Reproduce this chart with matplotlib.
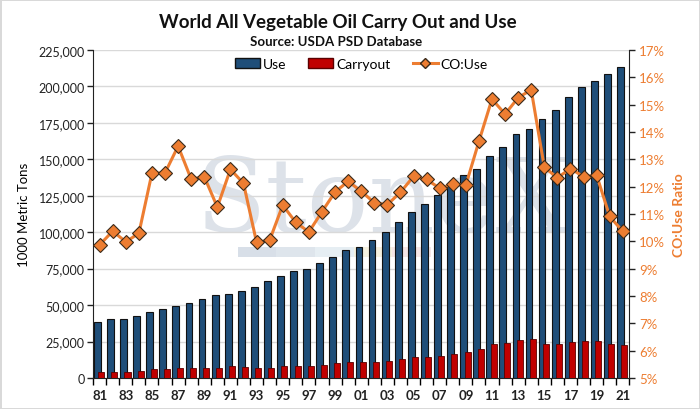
import matplotlib.pyplot as plt
from matplotlib.ticker import FuncFormatter, FixedLocator
from matplotlib.lines import Line2D
from matplotlib.patches import Patch
import numpy as np

plt.rcParams["font.family"] = ["Lato", "DejaVu Sans"]

# Marketing years 1981..2021, shown as two-digit labels
years = [f"{y % 100:02d}" for y in range(1981, 2022)]

# 1000 metric tons
use = [38500, 40500, 40500, 42700, 45300, 47300, 49600, 51400, 54200, 56900,
       57600, 59500, 62200, 66800, 70000, 73200, 74600, 79100, 82800, 87800,
       89700, 94700, 100400, 107200, 113900, 119200, 125700, 132400, 139300, 143600,
       152100, 158700, 167400, 171000, 177700, 183600, 193000, 199600, 203700, 208500,
       213300]
carryout = [3900, 4300, 4300, 4800, 6200, 6200, 6900, 6600, 6900, 6900,
            8000, 7500, 6600, 7100, 8200, 8200, 8200, 9100, 10300, 11000,
            10900, 11200, 11900, 13000, 14200, 14600, 15100, 16500, 17600, 20100,
            23500, 24200, 25800, 26800, 23100, 23100, 24700, 25200, 25600, 23100,
            22800]
# carryout to use ratio, percent
co_use = [9.87, 10.37, 9.98, 10.29, 12.49, 12.50, 13.48, 12.27, 12.36, 11.25,
          12.63, 12.12, 9.96, 10.04, 11.32, 10.69, 10.34, 11.08, 11.80, 12.19,
          11.83, 11.41, 11.34, 11.79, 12.37, 12.26, 11.94, 12.09, 12.05, 13.65,
          15.20, 14.65, 15.25, 15.54, 12.71, 12.32, 12.66, 12.36, 12.42, 10.91,
          10.36]

BLUE = "#1f4e79"
RED = "#c00000"
ORANGE = "#ed7d31"

x = np.arange(len(years))

fig = plt.figure(figsize=(7.0, 4.1), dpi=100)
fig.patch.set_edgecolor("#d9d9d9")
fig.patch.set_linewidth(2)
ax = fig.add_axes([0.133, 0.0756, 0.766, 0.8004])
ax2 = ax.twinx()

# faint watermark behind everything
ax.text(0.54, 0.535, "StoneX", transform=ax.transAxes, ha="center", va="center",
        fontsize=74, family="DejaVu Serif", color="#dde2e9", zorder=0)
for i, c in enumerate(["#d8dfe8", "#dee5ec", "#e6eef3", "#f5f1e0", "#f5e6e6"]):
    ax.add_patch(plt.Rectangle((0.27 + i * 0.072, 0.37), 0.072, 0.028,
                               transform=ax.transAxes, color=c,
                               zorder=0, linewidth=0))

ax.bar(x - 0.17, use, width=0.52, color=BLUE, edgecolor="#111111",
       linewidth=0.8, zorder=3)
ax.bar(x + 0.13, carryout, width=0.46, color=RED, edgecolor="#5a0000",
       linewidth=0.6, zorder=4)

ax.set_xlim(-0.5, len(years) - 0.5)
ax.set_ylim(0, 225000)
ax.set_yticks(np.arange(0, 225001, 25000))
ax.yaxis.set_major_formatter(FuncFormatter(lambda v, p: f"{int(v):,}"))
ax.grid(axis="y", color="#d9d9d9", linewidth=1, zorder=0)
ax.set_axisbelow(True)
ax.tick_params(axis="y", labelsize=9, length=4, width=1, pad=2, colors="#222222")
ax.set_ylabel("1000 Metric Tons", fontsize=9.5, labelpad=6)

# year labels every other year, tick marks between categories
ax.xaxis.set_major_locator(FixedLocator(x[::2]))
ax.set_xticklabels(years[::2], fontsize=9.5, fontweight="bold", color="#222222")
ax.xaxis.set_minor_locator(FixedLocator(np.arange(-0.5, len(years), 1)))
ax.tick_params(axis="x", which="major", length=0, pad=8)
ax.tick_params(axis="x", which="minor", length=5, width=1)

for s in ["top", "right"]:
    ax.spines[s].set_visible(False)
ax.spines["left"].set_color("#222222")
ax.spines["bottom"].set_color("#222222")

ax2.plot(x, co_use, color=ORANGE, linewidth=2.2, marker="D", markersize=7,
         markerfacecolor=ORANGE, markeredgecolor="#3a2a1a", markeredgewidth=0.8,
         zorder=5)
ax2.set_ylim(5, 17)
ax2.set_yticks(np.arange(5, 17.1, 1))
ax2.yaxis.set_major_formatter(FuncFormatter(lambda v, p: f"{int(round(v))}%"))
ax2.tick_params(axis="y", labelsize=9.5, length=4, width=1, pad=3,
                labelcolor=ORANGE, color="#222222")
ax2.set_ylabel("CO:Use Ratio", fontsize=10, color=ORANGE, fontweight="bold",
               labelpad=6)
for s in ["top", "left", "bottom"]:
    ax2.spines[s].set_visible(False)
ax2.spines["right"].set_color("#222222")
ax.set_zorder(ax2.get_zorder() - 1)
ax2.patch.set_visible(False)

handles = [
    Patch(facecolor=BLUE, edgecolor="#111111", label="Use"),
    Patch(facecolor=RED, edgecolor="#5a0000", label="Carryout"),
    Line2D([0], [0], color=ORANGE, linewidth=2.2, marker="D", markersize=5,
           markerfacecolor=ORANGE, markeredgecolor="#3a2a1a", label="CO:Use"),
]
ax2.legend(handles=handles, loc="upper center", bbox_to_anchor=(0.5, 1.0),
           ncol=3, frameon=False, fontsize=10, handlelength=1.8,
           handletextpad=0.2, columnspacing=1.6, borderaxespad=0.2)

fig.text(0.483, 0.945, "World All Vegetable Oil Carry Out and Use", ha="center",
         va="center", fontsize=13.5, fontweight="bold", color="#111111")
fig.text(0.48, 0.897, "Source: USDA PSD Database", ha="center", va="center",
         fontsize=9.5, fontweight="bold", color="#111111")

fig.savefig("out.png", dpi=100)
